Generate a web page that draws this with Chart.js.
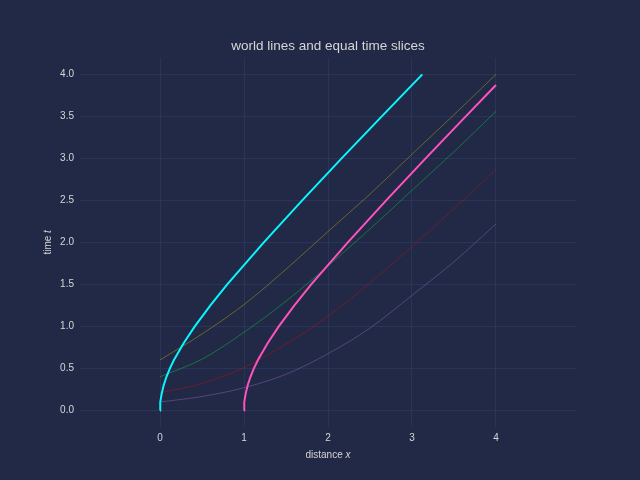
<!DOCTYPE html>
<html lang="en">
<head>
<meta charset="UTF-8">
<title>world lines and equal time slices</title>
<script src="https://cdn.jsdelivr.net/npm/chart.js"></script>
<style>
    html, body { margin: 0; padding: 0; background: #212946; }
    .container { width: 640px; height: 480px; }
</style>
</head>
<body>
<div class="container">
    <canvas id="grafico" width="640" height="480"></canvas>
</div>
<script>
    const xTicks = [0, 1, 2, 3, 4];
    const tTicks = [0, 0.5, 1, 1.5, 2, 2.5, 3, 3.5, 4];

    // world line starting at x = 0
    const worldAT = [0, 0.05, 0.1, 0.2, 0.3, 0.4, 0.5, 0.6, 0.8, 1.0, 1.25, 1.5, 2.0, 2.5, 3.0, 3.5, 4.0];
    const worldAX = [0, 0.001, 0.005, 0.02, 0.044, 0.077, 0.118, 0.166, 0.281, 0.414, 0.60, 0.80, 1.236, 1.693, 2.162, 2.64, 3.123];

    // world line starting at x = 1
    const worldBT = [0, 0.05, 0.1, 0.2, 0.3, 0.4, 0.5, 0.6, 0.8, 1.0, 1.25, 1.5, 2.0, 2.5, 3.0, 3.5, 3.873];
    const worldBX = [1, 1.001, 1.005, 1.02, 1.044, 1.077, 1.118, 1.166, 1.281, 1.414, 1.60, 1.80, 2.236, 2.693, 3.162, 3.64, 4.0];

    // equal time slices
    const sliceX = [0, 0.5, 1, 1.5, 2, 2.5, 3, 3.5, 4];
    const sliceYellow = [0.60, 0.91, 1.26, 1.68, 2.13, 2.575, 3.05, 3.52, 4.00];
    const sliceGreen = [0.40, 0.61, 0.93, 1.30, 1.72, 2.16, 2.62, 3.08, 3.56];
    const sliceRed = [0.21, 0.32, 0.51, 0.79, 1.12, 1.52, 1.95, 2.40, 2.87];
    const slicePurple = [0.10, 0.165, 0.27, 0.43, 0.675, 0.98, 1.37, 1.77, 2.22];

    const textColor = '#d6d6d6';
    const gridColor = '#2A3459';
    const fontFamily = '"Liberation Sans", Arial, sans-serif';

    function pontos(xs, ys) {
        return xs.map((x, i) => ({ x: x, y: ys[i] }));
    }

    function linhaMundo(xs, ts, cor) {
        return {
            data: pontos(xs, ts),
            borderColor: cor,
            borderWidth: 2,
            tension: 0,
            pointRadius: 0
        };
    }

    function fatia(ys, cor) {
        return {
            data: pontos(sliceX, ys),
            borderColor: cor,
            borderWidth: 1,
            cubicInterpolationMode: 'monotone',
            pointRadius: 0
        };
    }

    const fundo = {
        id: 'fundo',
        beforeDraw(chart) {
            const ctx = chart.ctx;
            ctx.save();
            ctx.fillStyle = '#212946';
            ctx.fillRect(0, 0, chart.width, chart.height);
            ctx.restore();
        }
    };

    // title and axis labels with italic math symbols
    function textoMisto(ctx, partes, cx, cy) {
        let total = 0;
        partes.forEach(p => { ctx.font = p.font; total += ctx.measureText(p.txt).width; });
        let x = cx - total / 2;
        partes.forEach(p => {
            ctx.font = p.font;
            ctx.fillText(p.txt, x, cy);
            x += ctx.measureText(p.txt).width;
        });
    }

    const rotulos = {
        id: 'rotulos',
        afterDraw(chart) {
            const ctx = chart.ctx;
            const area = chart.chartArea;
            const cx = (area.left + area.right) / 2;
            const cy = (area.top + area.bottom) / 2;
            ctx.save();
            ctx.fillStyle = textColor;
            ctx.textBaseline = 'alphabetic';

            ctx.font = '13.5px ' + fontFamily;
            ctx.textAlign = 'center';
            ctx.fillText('world lines and equal time slices', cx, 49.5);

            ctx.textAlign = 'left';
            ctx.textBaseline = 'middle';
            textoMisto(ctx, [
                { txt: 'distance ', font: '10px ' + fontFamily },
                { txt: 'x', font: 'italic 10px ' + fontFamily }
            ], cx, 455.5);

            ctx.translate(48, cy);
            ctx.rotate(-Math.PI / 2);
            textoMisto(ctx, [
                { txt: 'time ', font: '10px ' + fontFamily },
                { txt: 't', font: 'italic 10px ' + fontFamily }
            ], 0, 0);
            ctx.restore();
        }
    };

    const grafico = document.getElementById('grafico');
    const chart = new Chart(grafico, {
        type: 'line',
        data: {
            datasets: [
                linhaMundo(worldAX, worldAT, '#08F7FE'),
                linhaMundo(worldBX, worldBT, '#FE53BB'),
                fatia(sliceYellow, 'rgba(245, 211, 0, 0.35)'),
                fatia(sliceGreen, 'rgba(0, 255, 65, 0.35)'),
                fatia(sliceRed, 'rgba(255, 0, 0, 0.35)'),
                fatia(slicePurple, 'rgba(148, 103, 189, 0.45)')
            ]
        },
        options: {
            responsive: false,
            animation: false,
            layout: { padding: { top: 57.6, right: 64, bottom: 0, left: 0 } },
            plugins: {
                legend: { display: false },
                tooltip: { enabled: false },
                title: { display: false }
            },
            scales: {
                x: {
                    type: 'linear',
                    min: -0.9524,
                    max: 4.9524,
                    afterBuildTicks: s => { s.ticks = xTicks.map(v => ({ value: v })); },
                    afterFit: s => { s.height = 52.8; },
                    grid: { color: gridColor, lineWidth: 1, drawTicks: false },
                    border: { display: false },
                    ticks: {
                        color: textColor,
                        font: { family: fontFamily, size: 10 },
                        padding: 5,
                        maxRotation: 0,
                        callback: v => String(v)
                    }
                },
                y: {
                    type: 'linear',
                    min: -0.2,
                    max: 4.2,
                    afterBuildTicks: s => { s.ticks = tTicks.map(v => ({ value: v })); },
                    afterFit: s => { s.width = 80; },
                    grid: { color: gridColor, lineWidth: 1, drawTicks: false },
                    border: { display: false },
                    ticks: {
                        color: textColor,
                        font: { family: fontFamily, size: 10 },
                        padding: 6,
                        callback: v => v.toFixed(1)
                    }
                }
            }
        },
        plugins: [fundo, rotulos]
    });
</script>
</body>
</html>
